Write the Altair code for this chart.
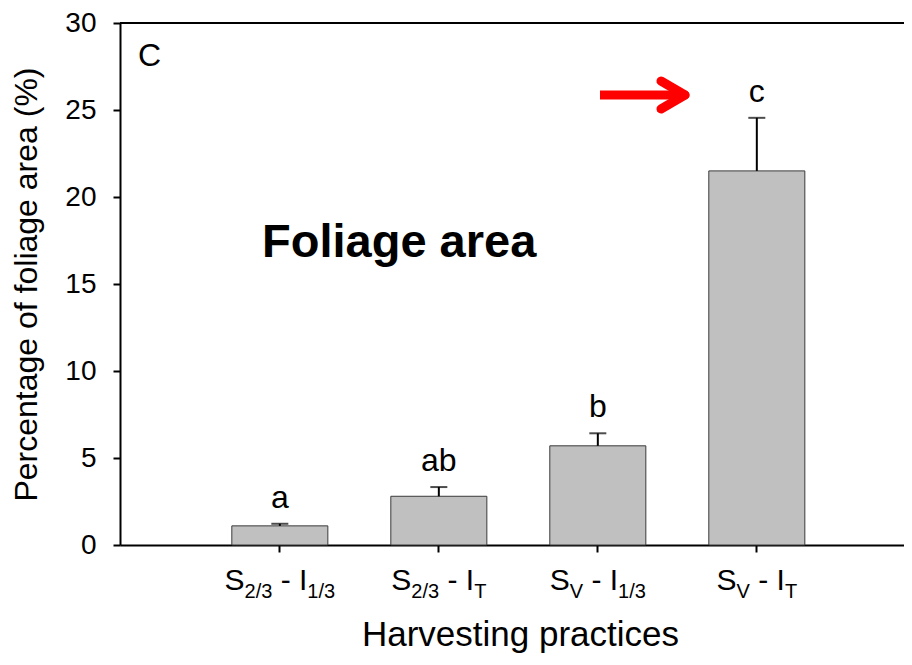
import altair as alt
import pandas as pd

# ---- data ----
categories = ["S2/3 - I1/3", "S2/3 - IT", "SV - I1/3", "SV - IT"]
means = [1.1, 2.8, 5.7, 21.5]
errors = [0.12, 0.53, 0.72, 3.05]
letters = ["a", "ab", "b", "c"]
y_ticks = [0, 5, 10, 15, 20, 25, 30]

# axis label pieces (main text / subscript)
label_main1 = ["S", "S", "S", "S"]
label_sub1 = ["2/3", "2/3", "V", "V"]
label_dash = ["-", "-", "-", "-"]
label_main2 = ["I", "I", "I", "I"]
label_sub2 = ["1/3", "T", "1/3", "T"]

FONT = "Liberation Sans"
W, H = 784, 522
MAIN_FS, SUB_FS = 30, 20

df = pd.DataFrame({
    "cat": categories,
    "mean": means,
    "top": [m + e for m, e in zip(means, errors)],
    "letter": letters,
})

xscale = alt.Scale(domain=categories, paddingInner=0.396, paddingOuter=0.6635, align=0.53)
yscale = alt.Scale(domain=[0, 30], nice=False, zero=True)

x_axis = alt.Axis(labels=False, ticks=True, tickSize=7, tickWidth=2,
                  domainWidth=2, domainColor="black", tickColor="black",
                  title="Harvesting practices",
                  titleFontSize=35, titleFontWeight="normal", titleFont=FONT,
                  titleX=400, titleY=100, titleBaseline="alphabetic",
                  titleColor="black", grid=False)
y_axis = alt.Axis(values=y_ticks, tickSize=7, tickWidth=2, domainWidth=2,
                  domainColor="black", tickColor="black",
                  labelPadding=17, labelFontSize=28, labelFont=FONT,
                  labelColor="black", labelFlush=False,
                  title="Percentage of foliage area (%)",
                  titleFontSize=32, titleFontWeight="normal", titleFont=FONT,
                  titleAngle=270, titleX=-84, titleBaseline="alphabetic",
                  titleColor="black", grid=False)


def X():
    return alt.X("cat:N", sort=categories, scale=xscale, axis=x_axis)


def Y(field):
    return alt.Y(field, scale=yscale, axis=y_axis)


base = alt.Chart(df)

bars = base.mark_bar(color="#c0c0c0", stroke="#3a3a3a", strokeWidth=1).encode(
    x=X(), y=Y("mean:Q"))

err_line = base.mark_rule(color="black", strokeWidth=2).encode(
    x=X(), y=Y("mean:Q"), y2="top:Q")
err_cap = base.mark_tick(color="black", size=17, thickness=2, orient="horizontal").encode(
    x=X(), y=Y("top:Q"))
letter_txt = base.mark_text(font=FONT, fontSize=32, baseline="alphabetic", dy=-16,
                            color="black").encode(
    x=X(), y=Y("top:Q"), text="letter:N")

one = pd.DataFrame({"k": [0]})
top_rule = alt.Chart(one).mark_rule(color="black", strokeWidth=2).encode(
    x=alt.value(0), x2=alt.value(W), y=alt.value(0))

panel_c = alt.Chart(one).mark_text(font=FONT, fontSize=32, align="left",
                                   baseline="alphabetic", color="black").encode(
    x=alt.value(18), y=alt.value(43), text=alt.value("C"))

big_title = alt.Chart(one).mark_text(font=FONT, fontSize=47, fontWeight="bold",
                                     align="left", baseline="alphabetic",
                                     color="black").encode(
    x=alt.value(142), y=alt.value(234), text=alt.value("Foliage area"))

# red arrow
shaft = alt.Chart(one).mark_rule(color="#ff0000", strokeWidth=9, strokeCap="butt").encode(
    x=alt.value(480), x2=alt.value(561), y=alt.value(72), y2=alt.value(72))
head1 = alt.Chart(one).mark_rule(color="#ff0000", strokeWidth=9, strokeCap="round").encode(
    x=alt.value(541), y=alt.value(58), x2=alt.value(565), y2=alt.value(72))
head2 = alt.Chart(one).mark_rule(color="#ff0000", strokeWidth=9, strokeCap="round").encode(
    x=alt.value(541), y=alt.value(86), x2=alt.value(565), y2=alt.value(72))

# custom x tick labels with subscripts
widths = {"S": .667, "2": .556, "/": .278, "3": .556, "1": .556, " ": .278,
          "-": .333, "I": .278, "T": .611, "V": .667}


def tw(s, fs):
    return sum(widths.get(ch, .556) for ch in s) * fs


SPACE = widths[" "] * MAIN_FS
label_layers = []
for i, cat in enumerate(categories):
    # (text, font size, baseline shift, gap before)
    pieces = [(label_main1[i], MAIN_FS, 0, 0), (label_sub1[i], SUB_FS, 8, 0),
              (label_dash[i], MAIN_FS, 0, SPACE), (label_main2[i], MAIN_FS, 0, SPACE),
              (label_sub2[i], SUB_FS, 8, 0)]
    total = sum(tw(p, fs) + g for p, fs, _, g in pieces)
    cur = -total / 2
    for p, fs, dyy, gap in pieces:
        cur += gap
        layer = alt.Chart(df).transform_filter(alt.datum.cat == cat).mark_text(
            font=FONT, fontSize=fs, align="left", baseline="alphabetic",
            dx=cur, color="black").encode(
            x=X(),
            y=alt.value(567 + dyy),
            text=alt.value(p),
        )
        label_layers.append(layer)
        cur += tw(p, fs)

chart = alt.layer(
    bars, err_line, err_cap, letter_txt, top_rule, panel_c, big_title,
    shaft, head1, head2, *label_layers
).properties(
    width=W, height=H,
    autosize=alt.AutoSizeParams(type="none"),
    padding={"left": 112, "top": 15, "right": 0, "bottom": 112},
).configure_view(stroke=None).configure(background="white")

chart.save("out.html", embed_options={"renderer": "svg", "actions": False})
